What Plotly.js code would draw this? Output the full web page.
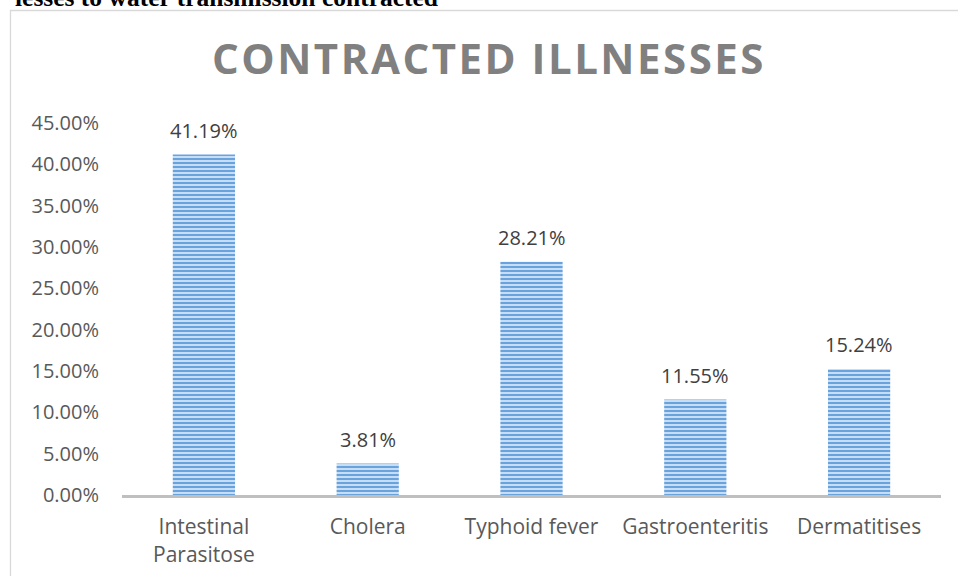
<!DOCTYPE html>
<html>
<head>
<meta charset="utf-8">
<script src="https://cdn.plot.ly/plotly-3.0.1.min.js"></script>
<style>
  html, body { margin: 0; padding: 0; background: #ffffff; }
  #chart { width: 958px; height: 576px; }
  .gtitle { letter-spacing: 2.5px; }
</style>
</head>
<body>
<div id="chart"></div>
<script>
// Illnesses contracted through water transmission, share of respondents (%)
const categories = ['Intestinal<br>Parasitose', 'Cholera', 'Typhoid fever', 'Gastroenteritis', 'Dermatitises'];
const shares = [41.19, 3.81, 28.21, 11.55, 15.24];
const yTickValues = [0, 5, 10, 15, 20, 25, 30, 35, 40, 45];
const yTickLabels = ['0.00%', '5.00%', '10.00%', '15.00%', '20.00%', '25.00%', '30.00%', '35.00%', '40.00%', '45.00%'];
const chartTitle = 'CONTRACTED ILLNESSES';
const headingText = 'lesses to water transmission contracted';

const bars = {
  type: 'bar',
  x: categories,
  y: shares,
  marker: {
    color: '#68a3de',
    line: { width: 0 },
    pattern: {
      shape: '-',
      fgcolor: '#c6ddf4',
      bgcolor: '#68a3de',
      size: 4,
      solidity: 0.5
    }
  },
  hoverinfo: 'skip'
};

// value labels sitting above each bar
const valueLabels = categories.map((c, i) => ({
  x: c,
  y: shares[i],
  xref: 'x',
  yref: 'y',
  text: shares[i].toFixed(2) + '%',
  showarrow: false,
  yanchor: 'bottom',
  yshift: 9,
  font: { family: 'Open Sans, sans-serif', size: 20, color: '#404040' }
}));

// partially visible caption line above the chart frame
const heading = {
  xref: 'paper', yref: 'paper',
  x: (440 - 122) / 819,
  y: (495 - 14) / 372,
  xanchor: 'right', yanchor: 'bottom',
  text: '<b>' + headingText + '</b>',
  showarrow: false,
  font: { family: 'Liberation Serif, Times New Roman, serif', size: 25.5, color: '#000000' }
};

const layout = {
  width: 958,
  height: 576,
  margin: { l: 122, r: 17, t: 123, b: 81 },
  paper_bgcolor: '#ffffff',
  plot_bgcolor: '#ffffff',
  showlegend: false,
  bargap: 0.62,
  title: {
    text: '<b>' + chartTitle + '</b>',
    font: { family: 'Open Sans, sans-serif', size: 42, color: '#808080' },
    xref: 'container', yref: 'container',
    x: 489 / 958, xanchor: 'center',
    y: 1 - 59 / 576, yanchor: 'middle'
  },
  xaxis: {
    type: 'category',
    showline: true,
    linecolor: '#bfbfbf',
    linewidth: 3,
    showgrid: false,
    zeroline: false,
    ticks: '',
    ticklabelstandoff: 11,
    tickfont: { family: 'Open Sans, sans-serif', size: 21, color: '#595959' },
    fixedrange: true
  },
  yaxis: {
    range: [0, 45],
    tickvals: yTickValues,
    ticktext: yTickLabels,
    showline: false,
    showgrid: false,
    zeroline: false,
    ticks: '',
    ticklabelstandoff: 22,
    tickfont: { family: 'Open Sans, sans-serif', size: 20, color: '#595959' },
    fixedrange: true
  },
  annotations: valueLabels.concat([heading]),
  shapes: [{
    type: 'rect',
    xref: 'paper', yref: 'paper',
    x0: (10.5 - 122) / 819, x1: 1.2,
    y0: -0.5, y1: (495 - 10.5) / 372,
    line: { color: '#d9d9d9', width: 1.3 },
    fillcolor: 'rgba(0,0,0,0)',
    layer: 'below'
  }]
};

Plotly.newPlot('chart', [bars], layout, { displayModeBar: false, staticPlot: true });
</script>
</body>
</html>
